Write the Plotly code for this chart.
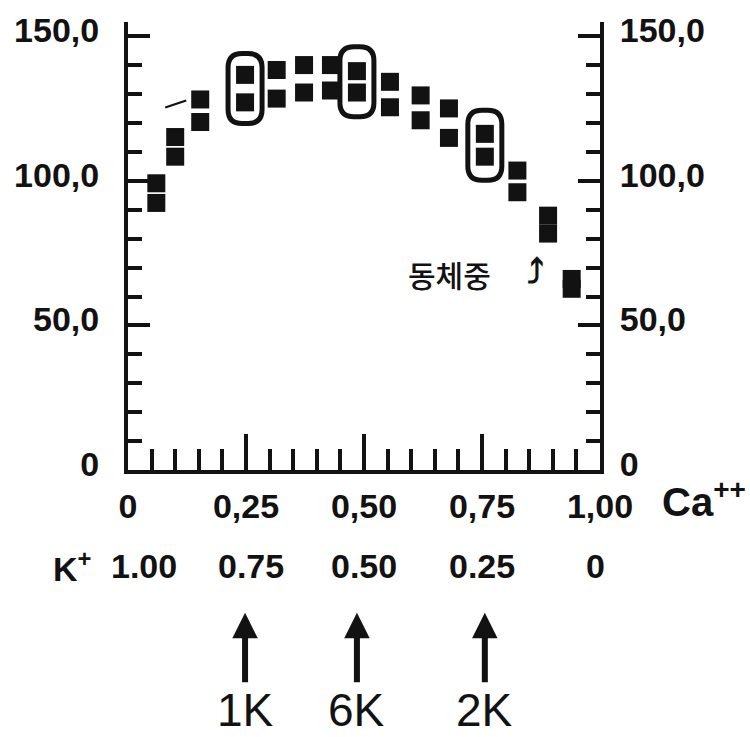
import plotly.graph_objects as go

# ---------------- data ----------------
ca_fraction = [0.06, 0.10, 0.153, 0.248, 0.315, 0.373, 0.43, 0.485,
               0.555, 0.62, 0.68, 0.756, 0.825, 0.89, 0.94]
upper_values = [99.2, 115.2, 128.2, 136.7, 138.4, 140.1, 140.1, 138.0,
                134.3, 129.6, 125.1, 116.3, 103.6, 88.0, 66.1]
lower_values = [92.4, 108.4, 120.4, 127.2, 128.5, 130.6, 131.3, 130.6,
                125.5, 121.0, 114.9, 108.4, 96.1, 81.8, 62.7]

y_ticks = [0, 50, 100, 150]
y_tick_text = ["0", "50,0", "100,0", "150,0"]
x_ticks = [0, 0.25, 0.5, 0.75, 1.0]
x_tick_text = ["0", "0,25", "0,50", "0,75", "1,00"]
k_values = [1.00, 0.75, 0.50, 0.25, 0.0]
k_text = ["1.00", "0.75", "0.50", "0.25", "0"]
marked_labels = ["1K", "6K", "2K"]
marked_index = [3, 7, 11]
note_text = "동체중"

# ---------------- styling ----------------
BLACK = "#121212"
BOLD = dict(family="Liberation Sans, Arial, sans-serif", size=34, color=BLACK, weight="bold")
k_label_nudge = [16, 5, 0, 0, -5]

fig = go.Figure()
fig.add_trace(go.Scatter(
    x=ca_fraction + ca_fraction, y=upper_values + lower_values, mode="markers",
    marker=dict(symbol="square", size=18, color=BLACK, line=dict(width=0)),
    showlegend=False, hoverinfo="skip"))
fig.add_trace(go.Scatter(
    x=[ca_fraction[0]], y=[upper_values[0]], yaxis="y2", mode="markers",
    marker=dict(opacity=0), showlegend=False, hoverinfo="skip"))


def rounded_rect(hw, hh, r):
    return (f"M{-hw},{-hh + r} L{-hw},{hh - r} Q{-hw},{hh} {-hw + r},{hh} "
            f"L{hw - r},{hh} Q{hw},{hh} {hw},{hh - r} L{hw},{-hh + r} "
            f"Q{hw},{-hh} {hw - r},{-hh} L{-hw + r},{-hh} Q{-hw},{-hh} {-hw},{-hh + r} Z")


for i in marked_index:
    fig.add_shape(type="path", xref="x", yref="y", xsizemode="pixel", ysizemode="pixel",
                  xanchor=ca_fraction[i], yanchor=(upper_values[i] + lower_values[i]) / 2,
                  path=rounded_rect(17, 35, 14),
                  line=dict(color=BLACK, width=5), fillcolor="rgba(0,0,0,0)")

# small hand-drawn stroke left of the 1K group
fig.add_shape(type="line", xref="x", yref="y", xsizemode="pixel", ysizemode="pixel",
              xanchor=ca_fraction[2], yanchor=upper_values[2],
              x0=-35, y0=-8, x1=-14, y1=-1, line=dict(color=BLACK, width=2))

annotations = []
# Ca++ axis name
annotations.append(dict(text="Ca<sup>++</sup>", xref="paper", yref="paper",
                        x=1.127, y=-0.064, xanchor="left", yanchor="middle",
                        showarrow=False, font=dict(BOLD, size=40)))
# K+ row
annotations.append(dict(text="K<sup>+</sup>", xref="paper", yref="paper",
                        x=-0.119, y=-0.215, xanchor="center", yanchor="middle",
                        showarrow=False, font=BOLD))
for k, t, nudge in zip(k_values, k_text, k_label_nudge):
    annotations.append(dict(text=t, xref="x", yref="paper", x=1 - k, y=-0.215,
                            xanchor="center", yanchor="middle", xshift=nudge,
                            showarrow=False, font=BOLD))
# sample arrows
for lab, i in zip(marked_labels, marked_index):
    annotations.append(dict(text=lab, xref="x", yref="paper", x=ca_fraction[i], y=-0.3187,
                            ax=0, ay=97, showarrow=True, arrowhead=2, arrowsize=0.85,
                            arrowwidth=6, arrowcolor=BLACK,
                            font=dict(family="Liberation Sans, Arial, sans-serif",
                                      size=46, color=BLACK)))
# note near last point
last_y = (upper_values[-1] + lower_values[-1]) / 2
annotations.append(dict(text=note_text, xref="x", yref="y", x=ca_fraction[-1], y=last_y,
                        xanchor="right", yanchor="middle", xshift=-79, yshift=10,
                        showarrow=False,
                        font=dict(family="Noto Sans CJK KR", size=30, color=BLACK,
                                  weight=500)))
annotations.append(dict(text="⤴", xref="x", yref="y", x=ca_fraction[-1], y=last_y,
                        xanchor="center", yanchor="middle", xshift=-36, yshift=12,
                        showarrow=False,
                        font=dict(family="DejaVu Sans", size=34, color=BLACK, weight="bold")))

axis_common = dict(showline=True, linewidth=4, linecolor=BLACK, showgrid=False,
                   zeroline=False, ticks="inside", tickwidth=4, tickcolor=BLACK,
                   tickfont=BOLD)

fig.update_layout(
    width=750, height=737, autosize=False,
    margin=dict(l=128, r=150, t=15, b=267, pad=0),
    paper_bgcolor="white", plot_bgcolor="white",
    xaxis=dict(axis_common, range=[0, 1], tickmode="array", tickvals=x_ticks,
               ticktext=x_tick_text, ticklen=36, ticklabelstandoff=3,
               minor=dict(dtick=0.05, tick0=0, ticks="inside", ticklen=21,
                          tickwidth=4, tickcolor=BLACK)),
    yaxis=dict(axis_common, range=[0, 155], tickmode="array", tickvals=y_ticks,
               ticktext=y_tick_text, ticklen=22, ticklabelstandoff=18,
               ticklabelshift=-6,
               minor=dict(dtick=10, tick0=0, ticks="inside", ticklen=14,
                          tickwidth=4, tickcolor=BLACK)),
    yaxis2=dict(axis_common, range=[0, 155], overlaying="y", side="right", anchor="x",
                tickmode="array", tickvals=y_ticks, ticktext=y_tick_text,
                ticklen=22, ticklabelstandoff=9, ticklabelshift=-6,
                minor=dict(dtick=10, tick0=0, ticks="inside", ticklen=14,
                           tickwidth=4, tickcolor=BLACK)),
    annotations=annotations,
    showlegend=False,
)

fig.write_html("out.html")
